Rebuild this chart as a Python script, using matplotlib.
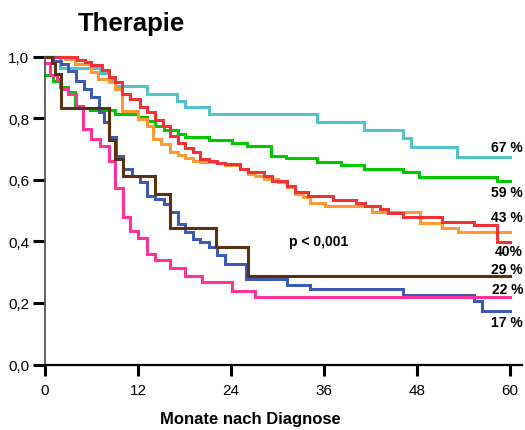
import matplotlib
matplotlib.use("Agg")
import matplotlib.pyplot as plt

plt.rcParams['font.family'] = ['Liberation Sans', 'DejaVu Sans']

# ---- data (months, survival) ----
cyan_t = [0, 2.0, 7.1, 8.2, 9.0, 13.1, 17.0, 18.1, 21.2, 35.1, 41.2, 46.2, 47.2, 53.2, 60]
cyan_s = [1.0, 0.962, 0.946, 0.927, 0.903, 0.878, 0.856, 0.835, 0.813, 0.788, 0.762, 0.734, 0.707, 0.673, 0.673]

green_t = [0, 1.0, 2.0, 3.0, 3.9, 4.9, 5.8, 9.0, 12.0, 13.1, 14.2, 15.3, 17.2, 18.1, 21.1, 24.1, 26.1,
           29.1, 31.1, 35.1, 38.2, 41.2, 46.2, 48.2, 58.3, 60]
green_s = [0.94, 0.921, 0.90, 0.884, 0.84, 0.832, 0.826, 0.813, 0.803, 0.792, 0.775, 0.76, 0.748, 0.738,
           0.729, 0.72, 0.708, 0.677, 0.669, 0.658, 0.648, 0.635, 0.624, 0.61, 0.595, 0.595]

red_t = [0, 4.1, 5.2, 6.0, 7.3, 8.2, 9.0, 9.9, 11.0, 12.3, 13.1, 14.2, 15.2, 16.1, 17.1, 18.1, 19.1, 20.0,
         21.1, 22.2, 23.2, 25.2, 26.2, 28.2, 29.3, 31.2, 32.3, 34.0, 37.2, 40.1, 41.3, 43.2, 44.3, 46.2,
         51.2, 55.3, 58.3, 60]
red_s = [1.0, 0.99, 0.983, 0.972, 0.955, 0.932, 0.916, 0.878, 0.862, 0.835, 0.82, 0.795, 0.775, 0.743,
         0.719, 0.702, 0.691, 0.667, 0.662, 0.654, 0.651, 0.635, 0.624, 0.611, 0.597, 0.579, 0.559, 0.546,
         0.535, 0.524, 0.516, 0.505, 0.491, 0.48, 0.464, 0.454, 0.399, 0.399]

orange_t = [0, 2.6, 3.9, 6.0, 6.9, 8.2, 9.0, 9.9, 12.0, 13.1, 14.0, 15.0, 16.1, 17.1, 18.1, 19.1, 20.0,
            22.2, 23.2, 25.2, 26.2, 27.1, 28.2, 30.1, 31.2, 32.3, 33.3, 34.2, 36.1, 42.2, 48.4, 51.2, 53.3, 60]
orange_s = [1.0, 0.992, 0.976, 0.949, 0.927, 0.916, 0.894, 0.824, 0.797, 0.775, 0.732, 0.716, 0.689,
            0.679, 0.671, 0.662, 0.657, 0.654, 0.648, 0.635, 0.619, 0.613, 0.603, 0.591, 0.576, 0.554,
            0.543, 0.524, 0.513, 0.496, 0.459, 0.443, 0.429, 0.429]

blue_t = [0, 1.0, 2.1, 3.0, 4.0, 5.0, 6.0, 7.0, 7.6, 8.2, 9.2, 10.1, 11.2, 12.2, 13.1, 14.2, 15.3, 16.1,
          17.2, 18.1, 19.1, 20.0, 21.1, 22.2, 23.2, 26.0, 31.2, 34.2, 46.2, 55.3, 56.4, 60]
blue_s = [1.0, 0.985, 0.976, 0.954, 0.92, 0.894, 0.867, 0.821, 0.786, 0.738, 0.678, 0.635, 0.613, 0.592,
          0.548, 0.536, 0.521, 0.494, 0.455, 0.429, 0.407, 0.397, 0.38, 0.356, 0.326, 0.278, 0.258, 0.245,
          0.226, 0.207, 0.175, 0.175]

brown_t = [0, 0.9, 1.3, 2.1, 8.2, 9.0, 10.1, 14.2, 16.1, 22.1, 26.2, 60]
brown_s = [1.0, 0.98, 0.943, 0.832, 0.73, 0.667, 0.613, 0.553, 0.443, 0.38, 0.286, 0.286]

pink_t = [0, 0.65, 1.5, 2.1, 3.0, 4.0, 4.9, 6.0, 7.1, 8.2, 9.0, 10.1, 11.0, 12.0, 13.1, 14.2, 16.1, 18.1,
          20.2, 24.1, 27.1, 60]
pink_s = [0.979, 0.94, 0.927, 0.894, 0.878, 0.835, 0.765, 0.732, 0.71, 0.662, 0.573, 0.478, 0.434, 0.41,
          0.36, 0.339, 0.314, 0.288, 0.267, 0.24, 0.218, 0.218]

end_labels = ["67 %", "59 %", "43 %", "40%", "29 %", "22 %", "17 %"]

x_ticks = [0, 12, 24, 36, 48, 60]
y_ticks = [0.0, 0.2, 0.4, 0.6, 0.8, 1.0]
y_ticklabels = ["0,0", "0,2", "0,4", "0,6", "0,8", "1,0"]

series = [
    (cyan_t, cyan_s, "#52C3C8"),
    (green_t, green_s, "#00C800"),
    (orange_t, orange_s, "#FF9A33"),
    (red_t, red_s, "#EE3338"),
    (blue_t, blue_s, "#3E5BB2"),
    (pink_t, pink_s, "#FF3399"),
    (brown_t, brown_s, "#5A3210"),
]

W, H = 525, 431
fig = plt.figure(figsize=(W / 100, H / 100), dpi=100)
ax = fig.add_axes([45 / W, 1 - 365.5 / H, (521.6 - 45) / W, (365.5 - 57.5) / H])

for t, s, c in series:
    ax.step(t, s, where='post', color=c, lw=2.2, clip_on=False, solid_joinstyle='miter')

ax.set_xlim(0, 61.5)
ax.set_ylim(0, 1.0)
ax.set_xticks(x_ticks)
ax.set_xticklabels([str(v) for v in x_ticks])
ax.set_yticks(y_ticks)
ax.set_yticklabels(y_ticklabels)

for side in ['top', 'right']:
    ax.spines[side].set_visible(False)
ax.spines['left'].set_color('#555555')
ax.spines['left'].set_linewidth(1.3)
ax.spines['bottom'].set_color('black')
ax.spines['bottom'].set_linewidth(1.6)

ax.tick_params(axis='x', direction='out', length=8, width=2.2, labelsize=11, pad=5, colors='black')
ax.tick_params(axis='y', direction='out', length=8.5, width=2.2, labelsize=11, pad=3, colors='black')

# right-side percentage labels
label_px_y = [148, 193, 218, 252, 270, 290, 323]
for lab, py in zip(end_labels, label_px_y):
    fig.text(523 / W, 1 - py / H, lab, ha='right', va='center', fontsize=10, fontweight='bold')

fig.text(319 / W, 1 - 242 / H, "p < 0,001", ha='center', va='center', fontsize=10, fontweight='bold')

fig.text(131 / W, 1 - 24 / H, "Therapie", ha='center', va='center', fontsize=18.5, fontweight='bold')
fig.text(250 / W, 1 - 420 / H, "Monate nach Diagnose", ha='center', va='center', fontsize=12,
         fontweight='bold')

fig.savefig("out.png", dpi=100)
